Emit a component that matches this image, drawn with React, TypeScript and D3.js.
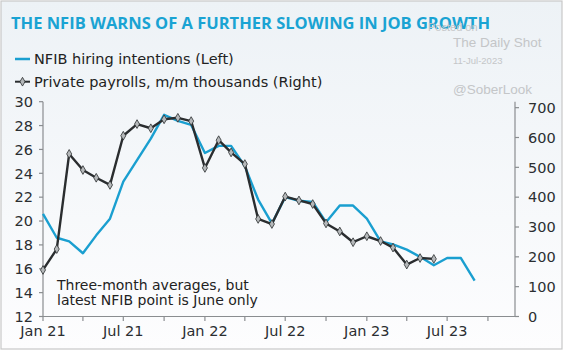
import React from 'react';
import * as d3 from 'd3';

// monthly data, Jan 2021 onward
const nfibStart = new Date(2021, 0, 1);
const nfibHiring = [
  20.6, 18.6, 18.3, 17.3, 18.8, 20.2, 23.3, 25.1, 26.9, 28.9, 28.4, 28.05,
  25.7, 26.3, 26.3, 24.6, 21.8, 19.8, 22.0, 21.7, 21.6, 19.9, 21.3, 21.3,
  20.2, 18.3, 18.05, 17.6, 17.0, 16.3, 16.9, 16.9, 15.0,
];
const payrolls = [
  156, 226, 545, 491, 465, 441, 606, 645, 631, 661, 666, 655,
  498, 591, 550, 511, 327, 310, 402, 389, 377, 312, 285, 249,
  269, 253, 231, 174, 196, 193,
];
const leftTicks = [12, 14, 16, 18, 20, 22, 24, 26, 28, 30];
const rightTicks = [0, 100, 200, 300, 400, 500, 600, 700];

const W = 564;
const H = 351;
const font = '"DejaVu Sans", sans-serif';
const blue = '#1a9fd0';
const dark = '#2a2d2f';

export default function App() {
  const x = d3.scaleTime()
    .domain([new Date(2021, 0, 1), new Date(2023, 11, 1)])
    .range([43, 515]);
  const yL = d3.scaleLinear().domain([12, 30]).range([316.5, 101.7]);
  const yR = d3.scaleLinear().domain([0, 720]).range([316.5, 101.7]);

  const month = (i: number) => d3.timeMonth.offset(nfibStart, i);
  const blueLine = d3.line<number>()
    .x((d, i) => x(month(i)))
    .y(d => yL(d));
  const blackLine = d3.line<number>()
    .x((d, i) => x(month(i)))
    .y(d => yR(d));
  const diamond = d3.symbol().type(d3.symbolDiamond).size(22)();

  const quarterTicks = d3.timeMonth.every(3)!.range(new Date(2021, 0, 1), new Date(2023, 11, 2));
  const fmt = d3.timeFormat('%b %y');

  return (
    <svg width={W} height={H} style={{position: 'absolute', left: 0, top: 0}} fontFamily={font}>
      <defs>
        <linearGradient id="bg" x1="0" y1="0" x2="0" y2="1">
          <stop offset="0" stopColor="#edf2f6" />
          <stop offset="1" stopColor="#fdfdfe" />
        </linearGradient>
      </defs>
      <rect x={1} y={1} width={561} height={348} fill="url(#bg)" stroke="#c8c8c8" strokeWidth={1.2} />

      {/* title */}
      <text x={11} y={29} fontFamily='"Open Sans", sans-serif' fontWeight={700} fontSize={16.5} fill="#1aa3d3">
        THE NFIB WARNS OF A FURTHER SLOWING IN JOB GROWTH
      </text>

      {/* watermark */}
      <g fill="#c4c6c8" fontFamily='"Liberation Sans", Arial, sans-serif'>
        <text x={428} y={31} fontSize={11}>Posted on</text>
        <text x={453} y={47} fontSize={13.5}>The Daily Shot</text>
        <text x={453} y={64} fontSize={9.5}>11-Jul-2023</text>
        <text x={453} y={94} fontSize={13.5}>@SoberLook</text>
      </g>

      {/* legend */}
      <line x1={15} x2={30} y1={59} y2={59} stroke={blue} strokeWidth={2.5} />
      <text x={34} y={64} fontSize={14.5} fill="#222">NFIB hiring intentions (Left)</text>
      <line x1={15} x2={30} y1={81.7} y2={81.7} stroke={dark} strokeWidth={2} />
      <path d={diamond!} transform="translate(22.5,81.7)" fill="#b5b8ba" stroke={dark} strokeWidth={0.8} />
      <text x={34} y={87} fontSize={14.5} fill="#222">Private payrolls, m/m thousands (Right)</text>

      {/* axes */}
      <g stroke="#8a8d90" strokeWidth={1.2}>
        <line x1={43} x2={43} y1={101.7} y2={316.5} />
        <line x1={515} x2={515} y1={101.7} y2={316.5} />
        <line x1={43} x2={515} y1={316.5} y2={316.5} />
        {leftTicks.map(t => <line key={'l' + t} x1={39} x2={43} y1={yL(t)} y2={yL(t)} />)}
        {rightTicks.map(t => <line key={'r' + t} x1={515} x2={519} y1={yR(t)} y2={yR(t)} />)}
        {quarterTicks.map(d => <line key={'x' + d.getTime()} x1={x(d)} x2={x(d)} y1={316.5} y2={321} />)}
      </g>
      <g fontSize={14.5} fill="#2b2e31">
        {leftTicks.map(t => (
          <text key={'lt' + t} x={33} y={yL(t)} dy="0.36em" textAnchor="end">{t}</text>
        ))}
        {rightTicks.map(t => (
          <text key={'rt' + t} x={528} y={yR(t)} dy="0.36em">{t}</text>
        ))}
        {quarterTicks.filter(d => d.getMonth() % 6 === 0).map(d => (
          <text key={'xt' + d.getTime()} x={x(d)} y={336} textAnchor="middle">{fmt(d)}</text>
        ))}
      </g>

      {/* note */}
      <g fontSize={14} fill="#222">
        <text x={57} y={289.5}>Three-month averages, but</text>
        <text x={57} y={304.5}>latest NFIB point is June only</text>
      </g>

      {/* series */}
      <path d={blueLine(nfibHiring)!} fill="none" stroke={blue} strokeWidth={2.4} strokeLinejoin="round" />
      <path d={blackLine(payrolls)!} fill="none" stroke={dark} strokeWidth={2.4} strokeLinejoin="round" />
      {payrolls.map((v, i) => (
        <path key={'m' + i} d={diamond!} transform={`translate(${x(month(i))},${yR(v)})`}
          fill="#b5b8ba" stroke={dark} strokeWidth={0.8} />
      ))}
    </svg>
  );
}
